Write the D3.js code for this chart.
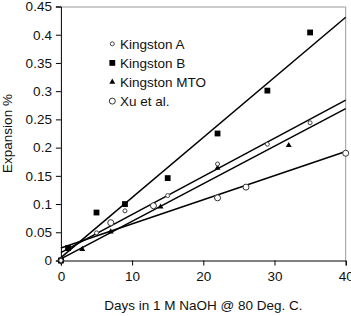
<!DOCTYPE html>
<html>
<head>
<meta charset="utf-8">
<script src="https://cdn.jsdelivr.net/npm/d3@7"></script>
<style>
  body { margin: 0; background: #fff; }
  text { font-family: "Liberation Sans", Arial, sans-serif; }
</style>
</head>
<body>
<div id="chart"></div>
<script>
// data
var daysA = [0, 5, 9, 15, 22, 29, 35];
var expA = [0, 0.049, 0.088, 0.115, 0.171, 0.206, 0.244];

var daysB = [0, 1, 5, 9, 15, 22, 29, 35];
var expB = [0, 0.022, 0.085, 0.1, 0.146, 0.225, 0.301, 0.404];

var daysMTO = [0, 3, 7, 14, 22, 32];
var expMTO = [0, 0.02, 0.051, 0.095, 0.164, 0.204];

var daysXu = [0, 7, 13, 22, 26, 40];
var expXu = [0, 0.067, 0.097, 0.111, 0.13, 0.19];

// trend lines: value at day 0 and day 40
var trendDays = [0, 40];
var trendA = [0.014, 0.284];
var trendB = [0.005, 0.431];
var trendMTO = [0.003, 0.269];
var trendXu = [0.022, 0.193];

var xTicks = [0, 10, 20, 30, 40];
var yTicks = [0, 0.05, 0.1, 0.15, 0.2, 0.25, 0.3, 0.35, 0.4, 0.45];
var legendNames = ["Kingston A", "Kingston B", "Kingston MTO", "Xu et al."];

var svgWidth = 351;
var svgHeight = 316;
var margin = { top: 6.5, right: 5.3, bottom: 55.5, left: 60.9 };
var width = svgWidth - margin.left - margin.right;
var height = svgHeight - margin.top - margin.bottom;

var svg = d3.select("#chart").append("svg")
  .attr("width", svgWidth)
  .attr("height", svgHeight);

var chartGroup = svg.append("g")
  .attr("transform", `translate(${margin.left}, ${margin.top})`);

var x = d3.scaleLinear().domain([0, 40]).range([0, width]);
var y = d3.scaleLinear().domain([0, 0.45]).range([height, 0]);

// gray frame on top and right
chartGroup.append("path")
  .attr("d", `M0,0.5H${width}V${height}`)
  .attr("fill", "none")
  .attr("stroke", "#999")
  .attr("stroke-width", 1);

var xAxis = chartGroup.append("g")
  .attr("transform", `translate(0, ${height})`)
  .call(d3.axisBottom(x).tickValues(xTicks).tickFormat(d3.format("d")).tickSize(5).tickPadding(6));

var yAxis = chartGroup.append("g")
  .call(d3.axisLeft(y).tickValues(yTicks).tickFormat(d => d === 0 ? "0" : d3.format("")(+d.toFixed(2))).tickSize(5).tickPadding(4));

[xAxis, yAxis].forEach(function(ax) {
  ax.select(".domain").attr("stroke", "#000");
  ax.selectAll("text").style("font-size", "13.5px").attr("fill", "#111");
});

chartGroup.append("text")
  .attr("x", width / 2)
  .attr("y", height + 49)
  .attr("text-anchor", "middle")
  .style("font-size", "13.5px")
  .attr("fill", "#111")
  .text("Days in 1 M NaOH @ 80 Deg. C.");

chartGroup.append("text")
  .attr("transform", "rotate(-90)")
  .attr("x", -height / 2)
  .attr("y", 11.5 - margin.left)
  .attr("text-anchor", "middle")
  .style("font-size", "13.5px")
  .attr("fill", "#111")
  .text("Expansion %");

// trend lines
var line = d3.line().x(d => x(d[0])).y(d => y(d[1]));
[trendA, trendB, trendMTO, trendXu].forEach(function(t) {
  chartGroup.append("path")
    .datum(trendDays.map((d, i) => [d, t[i]]))
    .attr("d", line)
    .attr("fill", "none")
    .attr("stroke", "#000")
    .attr("stroke-width", 1.5);
});

// marker drawers
function drawA(g, cx, cy) {
  g.append("circle").attr("cx", cx).attr("cy", cy).attr("r", 2)
    .attr("fill", "#fff").attr("stroke", "#444").attr("stroke-width", 1);
}
function drawB(g, cx, cy) {
  g.append("rect").attr("x", cx - 2.9).attr("y", cy - 2.9).attr("width", 5.8).attr("height", 5.8)
    .attr("fill", "#000");
}
function drawMTO(g, cx, cy) {
  g.append("path").attr("d", d3.symbol(d3.symbolTriangle, 15)())
    .attr("transform", `translate(${cx}, ${cy})`).attr("fill", "#000");
}
function drawXu(g, cx, cy) {
  g.append("circle").attr("cx", cx).attr("cy", cy).attr("r", 3)
    .attr("fill", "#fff").attr("stroke", "#333").attr("stroke-width", 1);
}

var pointsGroup = chartGroup.append("g");
daysXu.forEach((d, i) => drawXu(pointsGroup, x(d), y(expXu[i])));
daysMTO.forEach((d, i) => drawMTO(pointsGroup, x(d), y(expMTO[i])));
daysB.forEach((d, i) => drawB(pointsGroup, x(d), y(expB[i])));
daysA.forEach((d, i) => drawA(pointsGroup, x(d), y(expA[i])));

// legend
var legendGroup = svg.append("g");
var drawers = [drawA, drawB, drawMTO, drawXu];
legendNames.forEach(function(name, i) {
  var cy = 43.8 + i * 19.1;
  drawers[i](legendGroup, 112.3, cy);
  legendGroup.append("text")
    .attr("x", 120)
    .attr("y", cy)
    .attr("dy", "0.35em")
    .style("font-size", "13.5px")
    .attr("fill", "#111")
    .text(name);
});
</script>
</body>
</html>
